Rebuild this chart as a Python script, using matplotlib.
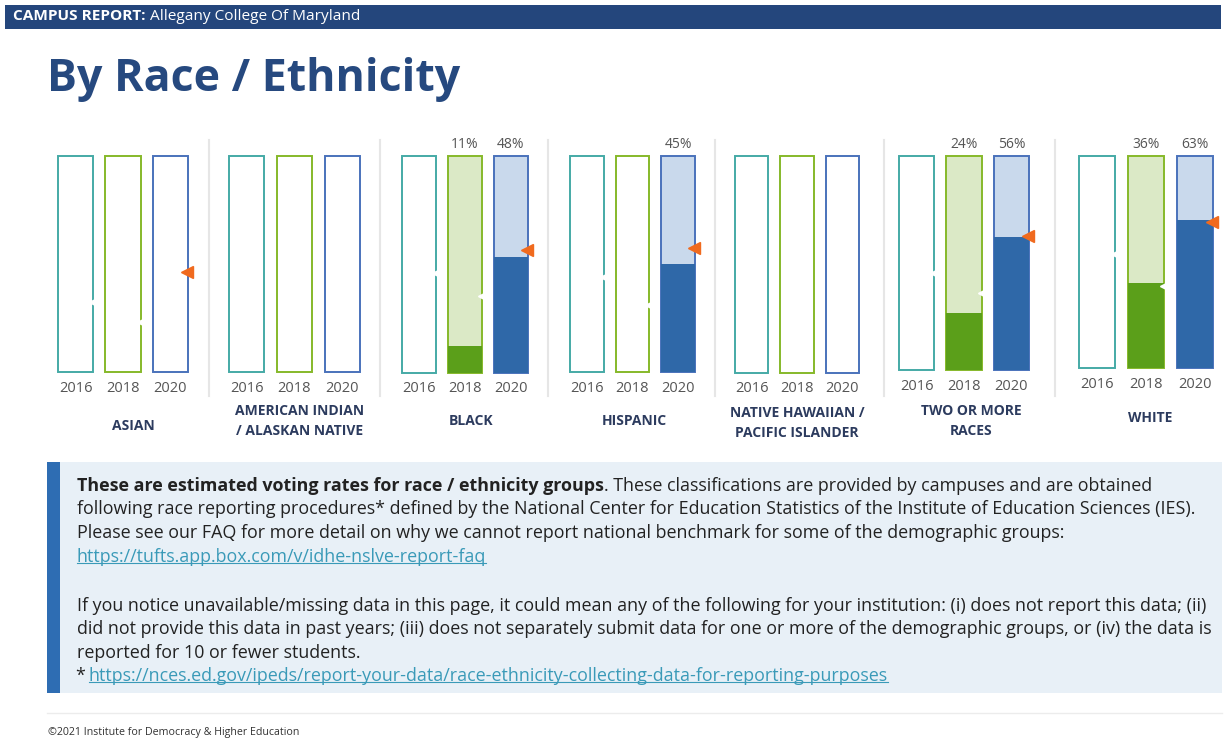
import matplotlib.pyplot as plt
from matplotlib.patches import Rectangle
from matplotlib.lines import Line2D

# ---- data ----
groups = ["ASIAN", "AMERICAN INDIAN\n/ ALASKAN NATIVE", "BLACK", "HISPANIC",
          "NATIVE HAWAIIAN /\nPACIFIC ISLANDER", "TWO OR MORE\nRACES", "WHITE"]
years = ["2016", "2018", "2020"]
rate_2016 = [None, None, None, None, None, None, None]
rate_2018 = [None, None, 11, None, None, 24, 36]
rate_2020 = [None, None, 48, 45, None, 56, 63]
# national benchmark markers (2016/2018 drawn in white, 2020 in orange)
bench_2016 = [29, None, 41.5, 39.5, None, 41, 48.5]
bench_2018 = [21, None, 32, 28, None, 32.5, 35]
bench_2020 = [41.5, None, 51, 51.5, None, 56.5, 62]
y_max = 90

header_bold = "CAMPUS REPORT:"
header_rest = " Allegany College Of Maryland"
page_title = "By Race / Ethnicity"
note_bold = "These are estimated voting rates for race / ethnicity groups"
note_lines = [
    ". These classifications are provided by campuses and are obtained",
    "following race reporting procedures* defined by the National Center for Education Statistics of the Institute of Education Sciences (IES).",
    "Please see our FAQ for more detail on why we cannot report national benchmark for some of the demographic groups:",
]
faq_link = "https://tufts.app.box.com/v/idhe-nslve-report-faq"
note_lines2 = [
    "If you notice unavailable/missing data in this page, it could mean any of the following for your institution: (i) does not report this data; (ii)",
    "did not provide this data in past years; (iii) does not separately submit data for one or more of the demographic groups, or (iv) the data is",
    "reported for 10 or fewer students.",
]
nces_link = "https://nces.ed.gov/ipeds/report-your-data/race-ethnicity-collecting-data-for-reporting-purposes"
footer = "\u00a92021 Institute for Democracy & Higher Education"

# ---- styles ----
outline = ["#45aaa6", "#86b92a", "#4a72bb"]
light = ["#d9efee", "#dbe9c6", "#c9d9ec"]
dark = ["#3a9a96", "#5b9f1a", "#2f68a8"]
orange = "#f06a1e"
navy = "#26497f"
grp_col = "#2c3b5e"
gray = "#555555"
link_col = "#3a9ab8"

W, H = 1226, 741
plt.rcParams['font.family'] = ['Open Sans', 'DejaVu Sans']
fig = plt.figure(figsize=(W / 100, H / 100), dpi=100)
fig.patch.set_facecolor("white")


def fx(x):
    return x / W


def fy(y):
    return 1 - y / H


# header band
fig.add_artist(Rectangle((fx(5), fy(29)), fx(1216), 24 / H, transform=fig.transFigure,
                         facecolor="#24467c", edgecolor="none"))
renderer = fig.canvas.get_renderer()


def put_run(x, y, pieces):
    for s, kw in pieces:
        t = fig.text(fx(x), fy(y), s, va="center", ha="left", **kw)
        bb = t.get_window_extent(renderer)
        x += bb.width
    return x


put_run(13, 16.5, [(header_bold, dict(color="white", fontsize=11.1, fontweight="bold")),
                   (header_rest, dict(color="white", fontsize=11.1))])

fig.text(fx(47), fy(79), page_title, fontsize=32.2, fontweight="bold", color=navy,
         va="center", ha="left")

# ---- bar groups ----
# pixel layout of each group: (left, right, top, bottom, title x, title y)
layout = [
    (58, 188, 156, 372, 133, 426),
    (229, 360, 156, 372, 300, 421),
    (402, 528, 156, 373, 471, 421),
    (570, 695, 156, 372, 634, 421),
    (735, 859, 156, 373, 797, 423),
    (899, 1029, 156, 370, 971, 421),
    (1079, 1213, 156, 368, 1150, 418),
]
separators = [209, 380, 548, 715, 884, 1055]
for sx in separators:
    fig.add_artist(Line2D([fx(sx), fx(sx)], [fy(140), fy(396)], transform=fig.transFigure,
                          color="#e6e6e6", lw=1.5))

w = 0.74
for gi, name in enumerate(groups):
    x0, x1, y0, y1, tx, ty = layout[gi]
    ax = fig.add_axes([fx(x0), fy(y1), (x1 - x0) / W, (y1 - y0) / H])
    ax.set_xlim(-w / 2, 2 + w / 2)
    ax.set_ylim(0, y_max)
    ax.axis("off")
    vals = [rate_2016[gi], rate_2018[gi], rate_2020[gi]]
    for k in range(3):
        v = vals[k]
        bg = light[k] if v is not None else "white"
        ax.bar(k, y_max, width=w, facecolor=bg, edgecolor=outline[k], linewidth=1.4,
               clip_on=False, zorder=1)
        if v is not None:
            ax.bar(k, v, width=w, color=dark[k], linewidth=0, clip_on=False, zorder=2)
            ax.annotate(f"{v}%", (k, y_max), xytext=(0, 3), textcoords="offset points",
                        ha="center", va="bottom", fontsize=10, color=gray)
        ax.annotate(years[k], (k, 0), xytext=(0, -16), textcoords="offset pixels",
                    ha="center", va="center", fontsize=10.5, color=gray, annotation_clip=False)
    for k, b in enumerate([bench_2016[gi], bench_2018[gi]]):
        if b is not None:
            ax.plot(k + w / 2, b, marker="<", ms=6, color="white", clip_on=False, zorder=4)
    if bench_2020[gi] is not None:
        ax.plot(2 + w / 2 - 0.03, bench_2020[gi], marker="<", ms=8, color=orange,
                clip_on=False, zorder=5)
    fig.text(fx(tx), fy(ty), name, ha="center", va="center", fontsize=10,
             fontweight="bold", color=grp_col, linespacing=1.6)

# ---- note box ----
fig.add_artist(Rectangle((fx(47), fy(693)), fx(1175), 231 / H, transform=fig.transFigure,
                         facecolor="#e8f0f7", edgecolor="none"))
fig.add_artist(Rectangle((fx(47), fy(693)), fx(13), 231 / H, transform=fig.transFigure,
                         facecolor="#2e6db3", edgecolor="none"))

fs = 12.9
body = dict(fontsize=fs, color="#222222")
put_run(77, 486, [(note_bold, dict(body, fontweight="bold")), (note_lines[0], body)])
put_run(77, 509, [(note_lines[1], body)])
put_run(77, 533, [(note_lines[2], body)])


def link(x, y, s):
    t = fig.text(fx(x), fy(y), s, va="center", ha="left", fontsize=fs, color=link_col)
    bb = t.get_window_extent(renderer)
    uy = (bb.y0 + 3) / H
    fig.add_artist(Line2D([bb.x0 / W, bb.x1 / W], [uy, uy], transform=fig.transFigure,
                          color=link_col, lw=0.8))


link(77, 557, faq_link)
for i, s in enumerate(note_lines2):
    put_run(77, 606 + i * 23.5, [(s, body)])
put_run(75, 676, [("*", body)])
link(89, 676, nces_link)

# footer
fig.add_artist(Line2D([fx(47), fx(1222)], [fy(713), fy(713)], transform=fig.transFigure,
                      color="#ececec", lw=1))
fig.text(fx(48), fy(732), footer, fontsize=7.7, color="#333333", va="center", ha="left")

fig.savefig("out.png", dpi=100)
